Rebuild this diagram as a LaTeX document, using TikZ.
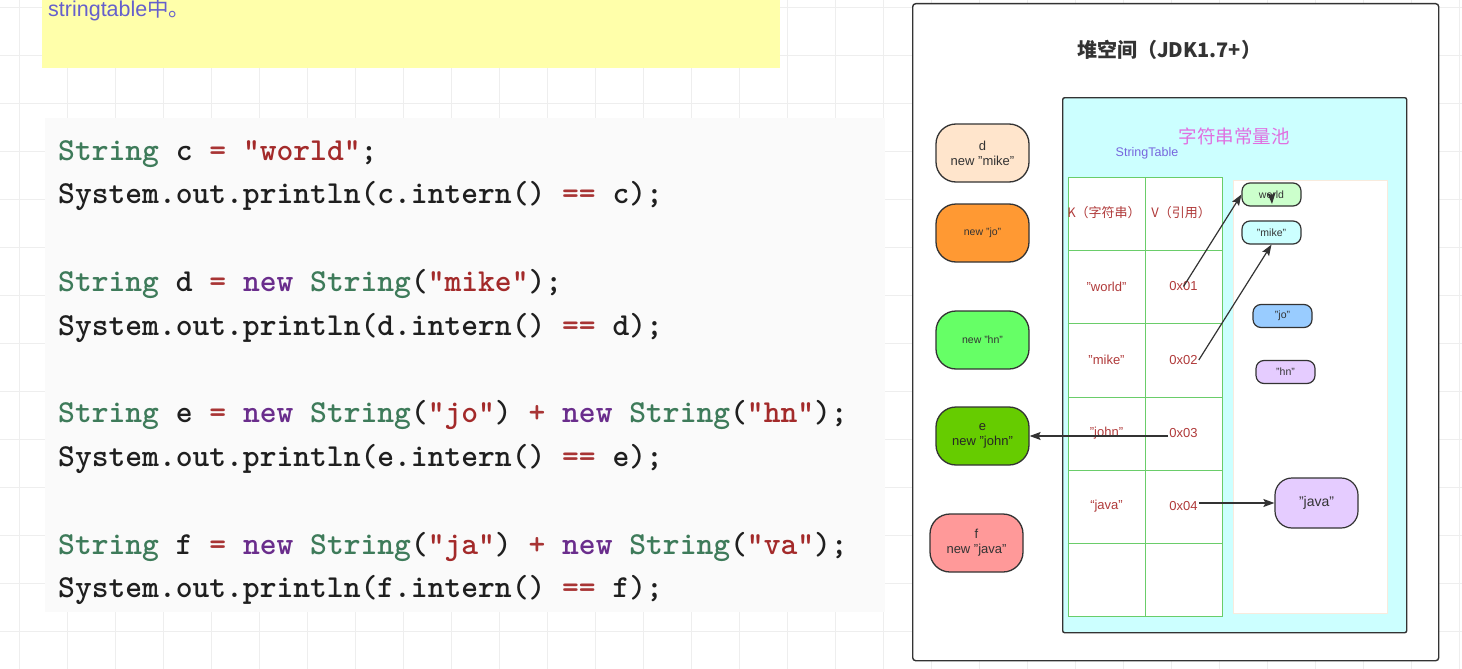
\documentclass[tikz,border=0pt]{standalone}
\usepackage{fontspec}
\setmainfont{Liberation Sans}
\newfontfamily\cjk{Noto Sans CJK SC}
\newfontfamily\codefont{lmmonolt10-bold.otf}
\usetikzlibrary{arrows.meta}
\definecolor{gridc}{HTML}{EEEEEE}
\definecolor{yel}{HTML}{FFFFAA}
\definecolor{notec}{HTML}{6660CC}
\definecolor{codebg}{HTML}{FAFAFA}
\definecolor{ctype}{HTML}{3E7B5A}
\definecolor{cop}{HTML}{A83434}
\definecolor{cstrc}{HTML}{A32A2A}
\definecolor{cnewc}{HTML}{6A2D8C}
\definecolor{dark}{HTML}{333333}
\definecolor{poolc}{HTML}{CCFFFF}
\definecolor{pinkc}{HTML}{E070E0}
\definecolor{stc}{HTML}{7766DD}
\definecolor{tblc}{HTML}{6ACD6A}
\definecolor{redtxt}{HTML}{B03A3A}
\definecolor{panelb}{HTML}{F8EBDD}
\newcommand\jT[1]{\textcolor{ctype}{#1}}
\newcommand\jO[1]{\textcolor{cop}{#1}}
\newcommand\jS[1]{\textcolor{cstrc}{#1}}
\newcommand\jN[1]{\textcolor{cnewc}{#1}}
\tikzset{
  gridline/.style={draw=gridc, line width=0.8pt},
  codeline/.style={anchor=base west, inner sep=0pt, font=\codefont\fontsize{32}{34}\selectfont, text=black!88},
  bigobj/.style={draw=dark, line width=1.3pt, rounded corners=20pt, minimum width=93pt, minimum height=58pt, inner sep=0pt, align=center, font=\fontsize{13}{15}\selectfont, text=dark},
  smallobj/.style={draw=dark, line width=1.2pt, rounded corners=8pt, minimum width=59pt, minimum height=23pt, inner sep=0pt, font=\fontsize{10.5}{12}\selectfont, text=dark},
  celltxt/.style={inner sep=1pt, font=\fontsize{13}{15}\selectfont, text=redtxt},
  arr/.style={draw=dark, line width=1.2pt, -{Stealth[length=11pt,width=8pt,inset=2pt]}},
}
\begin{document}
\begin{tikzpicture}[x=1pt,y=-1pt]
\useasboundingbox (0,0) rectangle (1462,669);
\fill[white] (0,0) rectangle (1462,669);
% grid
\foreach \i in {0,...,30} \draw[gridline] (19.5+48*\i,0) -- (19.5+48*\i,669);
\foreach \j in {0,...,13} \draw[gridline] (0,7.5+48*\j) -- (1462,7.5+48*\j);
% yellow note
\node[fill=yel, minimum width=738pt, minimum height=68pt, anchor=north west, inner sep=0pt] (note) at (42,0) {};
\node[anchor=west, inner sep=0pt, text=notec, font=\fontsize{21.5}{24}\selectfont] (notetxt) at (48,10) {stringtable{\cjk 中。}};
% code
\node[fill=codebg, minimum width=840pt, minimum height=494pt, anchor=north west, inner sep=0pt] (codebg) at (45,118) {};
\node[codeline] (l1) at (58,160) {\jT{String} c \jO{=} \jS{"world"};};
\node[codeline] (l2) at (58,203.5) {System.out.println(c.intern() \jO{==} c);};
\node[codeline] (l3) at (58,291.5) {\jT{String} d \jO{=} \jN{new} \jT{String}(\jS{"mike"});};
\node[codeline] (l4) at (58,335) {System.out.println(d.intern() \jO{==} d);};
\node[codeline] (l5) at (58,422.5) {\jT{String} e \jO{=} \jN{new} \jT{String}(\jS{"jo"}) \jO{+} \jN{new} \jT{String}(\jS{"hn"});};
\node[codeline] (l6) at (58,466) {System.out.println(e.intern() \jO{==} e);};
\node[codeline] (l7) at (58,554) {\jT{String} f \jO{=} \jN{new} \jT{String}(\jS{"ja"}) \jO{+} \jN{new} \jT{String}(\jS{"va"});};
\node[codeline] (l8) at (58,597.5) {System.out.println(f.intern() \jO{==} f);};
% heap
\node[draw=dark, fill=white, line width=1.4pt, rounded corners=3pt, minimum width=526pt, minimum height=657pt, anchor=north west, inner sep=0pt] (heap) at (912,3) {};
\node[font=\cjk\bfseries\fontsize{20}{24}\selectfont, text=dark] (title) at (1169,50) {堆空间（JDK1.7+）};
% pool
\node[draw=dark, fill=poolc, line width=1.4pt, rounded corners=2pt, minimum width=344pt, minimum height=535pt, anchor=north west, inner sep=0pt] (pool) at (1062,97) {};
\node[font=\cjk\fontsize{18.5}{22}\selectfont, text=pinkc] (pooltitle) at (1234,136) {字符串常量池};
\node[font=\fontsize{12.5}{15}\selectfont, text=stc] (st) at (1147,153) {StringTable};
\node[draw=panelb, fill=white, line width=0.8pt, minimum width=154pt, minimum height=433pt, anchor=north west, inner sep=0pt] (panel) at (1233,180) {};
% table
\fill[white] (1068,177) rectangle (1222,616);
\draw[draw=tblc, line width=1pt] (1068,177) rectangle (1222,616);
\draw[draw=tblc, line width=1pt] (1145,177) -- (1145,616);
\foreach \y in {250,323,397,470,543} \draw[draw=tblc, line width=1pt] (1068,\y) -- (1222,\y);
\node[celltxt, font=\cjk\fontsize{13}{15}\selectfont] (k0) at (1104,213) {K（字符串）};
\node[celltxt, font=\cjk\fontsize{13}{15}\selectfont] (v0) at (1181,213) {V（引用）};
\node[celltxt] (k1) at (1106.5,286.5) {"world"};
\node[celltxt] (v1) at (1183.5,286.5) {0x01};
\node[celltxt] (k2) at (1106.5,360) {"mike"};
\node[celltxt] (v2) at (1183.5,360) {0x02};
\node[celltxt] (k3) at (1106.5,433.5) {"john"};
\node[celltxt] (v3) at (1183.5,433.5) {0x03};
\node[celltxt] (k4) at (1106.5,506.5) {“java”};
\node[celltxt] (v4) at (1183.5,506.5) {0x04};
% left objects
\node[bigobj, fill={rgb,255:red,255;green,229;blue,204}] (d) at (982.5,153) {d\\new "mike"};
\node[bigobj, fill={rgb,255:red,255;green,153;blue,51}, font=\fontsize{10.5}{12}\selectfont] (jo) at (982.5,233) {new "jo"};
\node[bigobj, fill={rgb,255:red,102;green,255;blue,102}, font=\fontsize{10.5}{12}\selectfont] (hn) at (982.5,340) {new "hn"};
\node[bigobj, fill={rgb,255:red,102;green,204;blue,0}, text=black!85] (e) at (982.5,436) {e\\new "john"};
\node[bigobj, fill={rgb,255:red,255;green,153;blue,153}] (f) at (976.5,543) {f\\new "java"};
% pool objects
\node[smallobj, fill={rgb,255:red,204;green,255;blue,204}] (w) at (1271.5,194.5) {world};
\node[smallobj, fill={rgb,255:red,204;green,255;blue,255}] (mk) at (1271.5,232.5) {"mike"};
\node[smallobj, fill={rgb,255:red,153;green,204;blue,255}] (sjo) at (1282.5,316) {"jo"};
\node[smallobj, fill={rgb,255:red,229;green,204;blue,255}] (shn) at (1285.5,372) {"hn"};
\node[smallobj, fill={rgb,255:red,229;green,204;blue,255}, rounded corners=17pt, minimum width=83pt, minimum height=50pt, font=\fontsize{14}{16}\selectfont] (jv) at (1316.5,503) {"java"};
% arrows
\coordinate (wb) at (1272,204);
\draw[arr] (w.center) -- (wb);
\draw[arr] (v1.center) -- (w.west);
\draw[arr] (v2.east) -- (mk.south);
\draw[arr] (v3.west |- e.east) -- (e.east);
\draw[arr] (v4.east |- jv.west) -- (jv.west);
\end{tikzpicture}
\end{document}
